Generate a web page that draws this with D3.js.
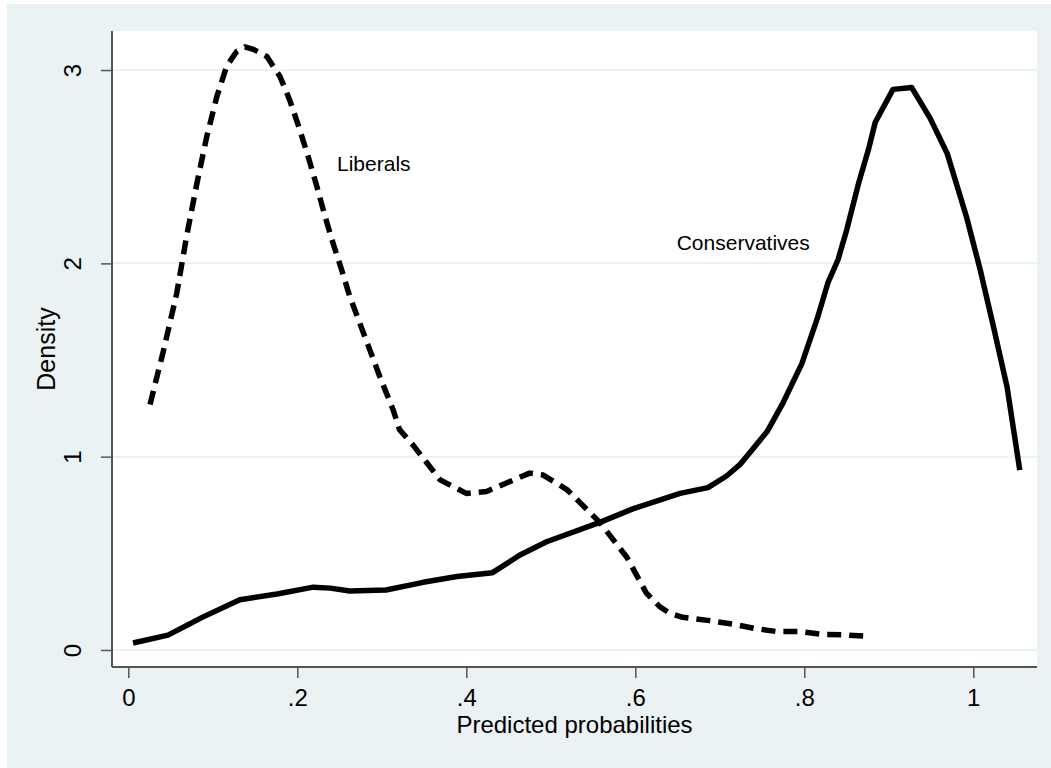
<!DOCTYPE html>
<html>
<head>
<meta charset="utf-8">
<script src="https://cdn.jsdelivr.net/npm/d3@7"></script>
<style>
  html, body { margin: 0; padding: 0; background: #ffffff; }
  svg { display: block; }
  text { font-family: "Liberation Sans", Arial, Helvetica, sans-serif; fill: #000; }
</style>
</head>
<body>
<svg id="chart" width="1051" height="768"></svg>
<script>
// ---- data ----
const liberalsX = [0.0257, 0.0417, 0.0573, 0.069, 0.081, 0.0928, 0.1046, 0.1164, 0.128, 0.138, 0.148, 0.164, 0.1795, 0.191, 0.203, 0.213, 0.223, 0.233, 0.2426, 0.2525, 0.262, 0.274, 0.286, 0.298, 0.3136, 0.321, 0.337, 0.353, 0.369, 0.40, 0.424, 0.44, 0.475, 0.491, 0.519, 0.558, 0.59, 0.613, 0.629, 0.641, 0.656, 0.688, 0.716, 0.741, 0.768, 0.795, 0.821, 0.848, 0.870];
const liberalsY = [1.27, 1.55, 1.845, 2.14, 2.41, 2.655, 2.86, 3.02, 3.095, 3.12, 3.107, 3.07, 2.966, 2.845, 2.69, 2.55, 2.40, 2.24, 2.10, 1.966, 1.83, 1.69, 1.55, 1.41, 1.24, 1.14, 1.06, 0.97, 0.88, 0.81, 0.82, 0.85, 0.915, 0.905, 0.83, 0.66, 0.48, 0.295, 0.224, 0.19, 0.169, 0.152, 0.133, 0.112, 0.095, 0.095, 0.081, 0.078, 0.072];

const conservativesX = [0.0056, 0.047, 0.088, 0.132, 0.176, 0.219, 0.239, 0.262, 0.305, 0.349, 0.389, 0.431, 0.463, 0.495, 0.558, 0.597, 0.653, 0.686, 0.708, 0.724, 0.756, 0.775, 0.797, 0.815, 0.828, 0.840, 0.850, 0.864, 0.876, 0.884, 0.905, 0.927, 0.949, 0.969, 0.992, 1.008, 1.024, 1.040, 1.055];
const conservativesY = [0.036, 0.077, 0.17, 0.26, 0.29, 0.325, 0.32, 0.305, 0.31, 0.35, 0.38, 0.40, 0.49, 0.56, 0.66, 0.73, 0.81, 0.84, 0.90, 0.96, 1.13, 1.28, 1.48, 1.71, 1.90, 2.02, 2.17, 2.41, 2.59, 2.73, 2.90, 2.91, 2.75, 2.57, 2.24, 1.97, 1.67, 1.36, 0.93];

const xTicks = [0, 0.2, 0.4, 0.6, 0.8, 1];
const xTickLabels = ["0", ".2", ".4", ".6", ".8", "1"];
const yTicks = [0, 1, 2, 3];
const yTickLabels = ["0", "1", "2", "3"];

const xTitle = "Predicted probabilities";
const yTitle = "Density";
const seriesLabels = [
  { text: "Liberals", x: 0.247, y: 2.48 },
  { text: "Conservatives", x: 0.649, y: 2.07 }
];

// ---- layout ----
const W = 1051, H = 768;
const plot = { left: 112, right: 1037, top: 31, bottom: 667 };
const bgColor = "#EAF2F3";
const gridColor = "#EAF2F3";
const axisColor = "#555555";
const font = "Liberation Sans, Arial, Helvetica, sans-serif";

const svg = d3.select("#chart");

// outer background
svg.append("rect").attr("x", 7).attr("y", 4).attr("width", W - 7).attr("height", H - 4).attr("fill", bgColor);
// plot region
svg.append("rect").attr("x", plot.left).attr("y", plot.top)
  .attr("width", plot.right - plot.left).attr("height", plot.bottom - plot.top).attr("fill", "#ffffff");

const x = d3.scaleLinear().domain([-0.0193, 1.0754]).range([plot.left, plot.right]);
const y = d3.scaleLinear().domain([-0.088, 3.202]).range([plot.bottom, plot.top]);

// gridlines
svg.append("g").selectAll("line").data(yTicks).join("line")
  .attr("x1", plot.left).attr("x2", plot.right)
  .attr("y1", d => y(d)).attr("y2", d => y(d))
  .attr("stroke", gridColor).attr("stroke-width", 2);

// x axis
const xAxis = d3.axisBottom(x).tickValues(xTicks)
  .tickFormat((d, i) => xTickLabels[i]).tickSize(11).tickSizeOuter(0);
const gx = svg.append("g").attr("transform", `translate(0,${plot.bottom})`).call(xAxis);
gx.select(".domain").attr("stroke", axisColor).attr("stroke-width", 2)
  .attr("d", `M${plot.left},0H${plot.right}`);
gx.selectAll(".tick line").attr("stroke", axisColor).attr("stroke-width", 1.5);
gx.selectAll(".tick text").attr("font-size", 24).attr("font-family", font).attr("fill", "#000")
  .attr("dy", null).attr("y", 39);

// y axis
const yAxis = d3.axisLeft(y).tickValues(yTicks)
  .tickFormat((d, i) => yTickLabels[i]).tickSize(11).tickSizeOuter(0).tickPadding(0);
const gy = svg.append("g").attr("transform", `translate(${plot.left},0)`).call(yAxis);
gy.select(".domain").attr("stroke", axisColor).attr("stroke-width", 2)
  .attr("d", `M0,${plot.top}V${plot.bottom}`);
gy.selectAll(".tick line").attr("stroke", axisColor).attr("stroke-width", 1.5);
gy.selectAll(".tick text")
  .attr("font-size", 24).attr("font-family", font).attr("fill", "#000")
  .attr("x", null).attr("dy", null)
  .attr("text-anchor", "middle")
  .attr("transform", "translate(-31,0) rotate(-90)");

svg.selectAll(".domain").attr("fill", "none");

// axis titles
svg.append("text").attr("x", (plot.left + plot.right) / 2).attr("y", 733)
  .attr("text-anchor", "middle").attr("font-size", 24).text(xTitle);
svg.append("text").attr("transform", `translate(55,${(plot.top + plot.bottom) / 2}) rotate(-90)`)
  .attr("text-anchor", "middle").attr("font-size", 25).text(yTitle);

// lines
const line = d3.line().x(d => x(d[0])).y(d => y(d[1])).curve(d3.curveLinear);
const libData = liberalsX.map((v, i) => [v, liberalsY[i]]);
const conData = conservativesX.map((v, i) => [v, conservativesY[i]]);

svg.append("path").datum(conData).attr("d", line)
  .attr("fill", "none").attr("stroke", "#000").attr("stroke-width", 5.5)
  .attr("stroke-linejoin", "round");
svg.append("path").datum(libData).attr("d", line)
  .attr("fill", "none").attr("stroke", "#000").attr("stroke-width", 5.5)
  .attr("stroke-dasharray", "14,8").attr("stroke-linejoin", "round");

// series labels
svg.append("g").selectAll("text").data(seriesLabels).join("text")
  .attr("x", d => x(d.x)).attr("y", d => y(d.y))
  .attr("font-size", 21).text(d => d.text);
</script>
</body>
</html>
